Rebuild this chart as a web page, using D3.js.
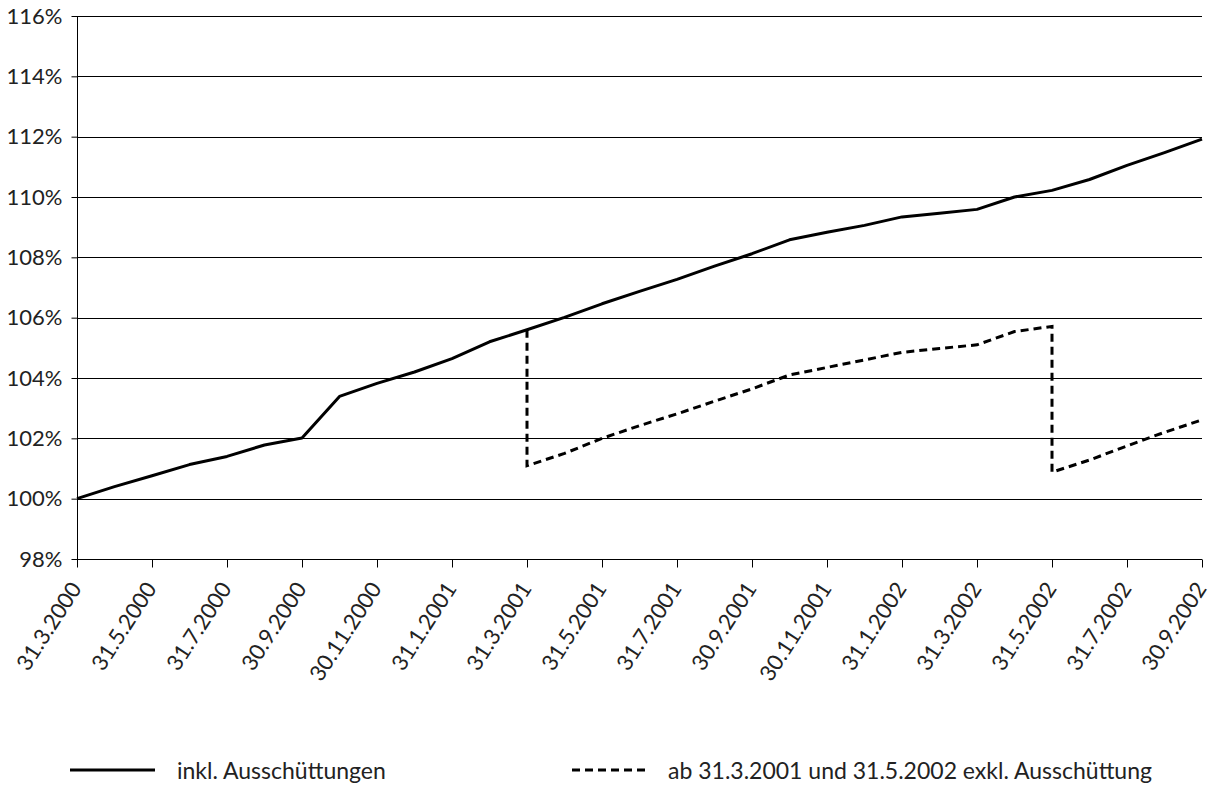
<!DOCTYPE html>
<html>
<head>
<meta charset="utf-8">
<script src="https://cdn.jsdelivr.net/npm/d3@7"></script>
<style>
  body { margin: 0; background: #fff; }
  svg text { font-family: Lato, "Open Sans", sans-serif; fill: #222; }
</style>
</head>
<body>
<div id="chart"></div>
<script>
// month index 0 = 31.3.2000 ... 30 = 30.9.2002
const tickLabels = ["31.3.2000", "31.5.2000", "31.7.2000", "30.9.2000", "30.11.2000", "31.1.2001",
  "31.3.2001", "31.5.2001", "31.7.2001", "30.9.2001", "30.11.2001", "31.1.2002",
  "31.3.2002", "31.5.2002", "31.7.2002", "30.9.2002"];

const inklValues = [100.0, 100.4, 100.76, 101.13, 101.4, 101.78, 102.01, 103.39, 103.82, 104.2,
  104.64, 105.2, 105.6, 106.01, 106.46, 106.87, 107.27, 107.71, 108.12, 108.58,
  108.83, 109.06, 109.34, 109.46, 109.59, 110.0, 110.22, 110.58, 111.05, 111.47, 111.92];

// dashed series: [month, value], with drops at 31.3.2001 and 31.5.2002
const exklPoints = [[12, 105.6], [12, 101.09], [13, 101.5], [14, 102.0], [15, 102.42], [16, 102.81],
  [17, 103.23], [18, 103.64], [19, 104.1], [20, 104.35], [21, 104.6], [22, 104.85],
  [23, 104.98], [24, 105.1], [25, 105.54], [26, 105.71], [26, 100.88], [27, 101.28],
  [28, 101.75], [29, 102.2], [30, 102.61]];

const yTicks = [98, 100, 102, 104, 106, 108, 110, 112, 114, 116];

const legendLabels = ["inkl. Ausschüttungen", "ab 31.3.2001 und 31.5.2002 exkl. Ausschüttung"];

const W = 1212, H = 787;
const margin = { top: 16, right: 10, bottom: 228, left: 77 };
const width = W - margin.left - margin.right;
const height = H - margin.top - margin.bottom;

const svg = d3.select("#chart").append("svg")
  .attr("width", W).attr("height", H);

const g = svg.append("g")
  .attr("transform", `translate(${margin.left},${margin.top})`);

const x = d3.scaleLinear().domain([0, 30]).range([0, width]);
const y = d3.scaleLinear().domain([98, 116]).range([height, 0]);

// gridlines
g.append("g")
  .selectAll("line")
  .data(yTicks.filter(d => d !== 98))
  .join("line")
  .attr("x1", 0).attr("x2", width)
  .attr("y1", d => Math.round(y(d)) + 0.5).attr("y2", d => Math.round(y(d)) + 0.5)
  .attr("stroke", "#000").attr("stroke-width", 1);

// y axis
const yAxis = g.append("g")
  .attr("transform", "translate(0.5,0)")
  .call(d3.axisLeft(y).tickValues(yTicks).tickSize(6).tickFormat(d => d + "%"));
yAxis.select(".domain").attr("stroke", "#000").attr("d", `M0,0V${height}`);
yAxis.selectAll(".tick line").attr("stroke", "#000");
yAxis.selectAll(".tick text")
  .attr("x", -15)
  .style("font-size", "22px");

// x axis
const monthTicks = d3.range(0, 31, 2);
const xAxis = g.append("g")
  .attr("transform", `translate(0,${Math.round(height) + 0.5})`)
  .call(d3.axisBottom(x).tickValues(monthTicks).tickSize(8).tickFormat((d, i) => tickLabels[i]));
xAxis.select(".domain").attr("stroke", "#000").attr("d", `M0,0H${width}`);
xAxis.selectAll(".tick line").attr("stroke", "#000");
xAxis.selectAll(".tick text")
  .attr("text-anchor", "end")
  .attr("dy", null)
  .attr("y", 0)
  .attr("transform", "translate(5,29) rotate(-57)")
  .style("font-size", "22px");

// lines
const lineInkl = d3.line()
  .x((d, i) => x(i))
  .y(d => y(d));

g.append("path")
  .datum(inklValues)
  .attr("d", lineInkl)
  .attr("fill", "none")
  .attr("stroke", "#000")
  .attr("stroke-width", 3)
  .attr("stroke-linejoin", "round");

const lineExkl = d3.line()
  .x(d => x(d[0]))
  .y(d => y(d[1]));

g.append("path")
  .datum(exklPoints)
  .attr("d", lineExkl)
  .attr("fill", "none")
  .attr("stroke", "#000")
  .attr("stroke-width", 3)
  .attr("stroke-dasharray", "8,5");

// legend
const legend = svg.append("g").attr("transform", "translate(0,770)");
const legendItems = [
  { x0: 70, x1: 155, tx: 177, dash: null, label: legendLabels[0] },
  { x0: 572, x1: 650, tx: 668, dash: "8,5", label: legendLabels[1] }
];
legendItems.forEach(it => {
  legend.append("line")
    .attr("x1", it.x0).attr("x2", it.x1)
    .attr("y1", 0).attr("y2", 0)
    .attr("stroke", "#000").attr("stroke-width", 3)
    .attr("stroke-dasharray", it.dash);
  legend.append("text")
    .attr("x", it.tx).attr("y", 9)
    .style("font-size", "23px")
    .text(it.label);
});
</script>
</body>
</html>
